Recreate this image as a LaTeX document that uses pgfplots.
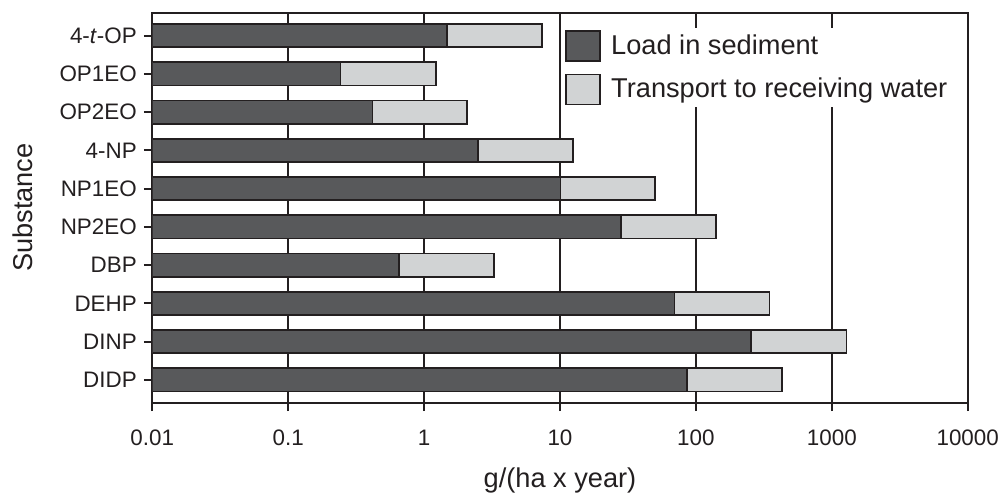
\documentclass[border=0pt]{standalone}
\usepackage{pgfplots}
\usepackage{pgfplotstable}
\pgfplotsset{compat=1.18}
\usepackage{fontspec}
\setmainfont{Liberation Sans}
\definecolor{darkg}{RGB}{88,89,91}
\definecolor{lightg}{RGB}{209,211,212}
\definecolor{ink}{RGB}{35,31,32}
\pgfplotsset{boxlegend/.style={legend image code/.code={\draw[##1] (0pt,-7.5pt) rectangle (17pt,7.5pt);}}}

\pgfplotstableread{
y load total
0 1.47 7.38
1 0.243 1.22
2 0.417 2.08
3 2.49 12.5
4 10.07 50.3
5 28.1 141
6 0.655 3.27
7 69.7 348
8 255 1282
9 86.5 432
}\datatable

\begin{document}
\begin{tikzpicture}
\path[use as bounding box] (-76.15pt,-46.15pt) rectangle (424.35pt,201.35pt);
\begin{axis}[
  scale only axis, width=407.7pt, height=195pt,
  xmode=log, log origin x=infty,
  xmin=0.01, xmax=10000,
  ymin=-0.6, ymax=9.6, y dir=reverse,
  xtick={0.01,0.1,1,10,100,1000,10000},
  xticklabels={0.01,0.1,1,10,100,1000,10000},
  xminorticks=false,
  ytick={0,...,9},
  yticklabels={4-\textit{t}-OP,OP1EO,OP2EO,4-NP,NP1EO,NP2EO,DBP,DEHP,DINP,DIDP},
  tick align=outside, xtick pos=bottom, ytick pos=left,
  major tick length=4.25pt,
  tick style={line width=1pt, ink},
  axis line style={line width=1pt, ink},
  xmajorgrids, major grid style={line width=1pt, ink},
  /pgf/number format/assume math mode=true,
  tick label style={font=\fontsize{11.2}{13}\selectfont, text=ink},
  xticklabel style={yshift=-6pt},
  label style={font=\fontsize{13.6}{16}\selectfont, text=ink},
  xlabel={g/(ha x year)}, ylabel={Substance},
  xlabel style={at={(axis description cs:0.5,-0.217)}, anchor=base},
  ylabel style={at={(axis description cs:-0.1472,0.5)}, anchor=base},
  reverse legend,
  legend cell align=left,
  legend style={at={(axis description cs:0.5037,0.961)}, anchor=north west,
    fill=white, draw=none, font=\fontsize{13.6}{16}\selectfont, text=ink,
    inner sep=1pt, row sep=5.7pt, column sep=3pt},
]
\addplot[xbar, bar width=11.65pt, bar shift=0pt, fill=lightg, draw=ink, line width=0.9pt, boxlegend]
  table[x=total, y=y] {\datatable};
\addlegendentry{Transport to receiving water}
\addplot[xbar, bar width=11.65pt, bar shift=0pt, fill=darkg, draw=ink, line width=0.9pt, boxlegend]
  table[x=load, y=y] {\datatable};
\addlegendentry{Load in sediment}
\end{axis}
\end{tikzpicture}
\end{document}
